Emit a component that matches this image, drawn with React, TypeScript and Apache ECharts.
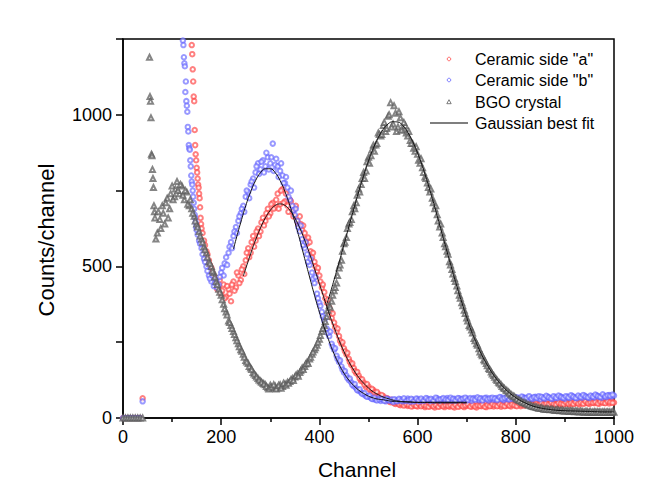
import { useEffect, useRef } from "react";
import * as echarts from "echarts";

const FONT = "'Liberation Sans', Arial, Helvetica, sans-serif";

// ---------- data (channel -> counts) ----------
// BGO crystal
const BGO_LOW_START = 0; // step 5
const bgoLow = [0, 0, 0, 0, 0, 0, 0, 0, 0];
const BGO_STEEP_START = 54; // step 1
const bgoSteep = [1190, 1060, 1045, 990, 870, 865, 820, 790, 760, 700, 680];
const BGO_MAIN_START = 65; // step 5
const bgoMain = [
  660, 610, 655, 700, 640, 725, 690, 765, 730, 780,
  740, 765, 720, 745, 700, 690, 665, 640, 615, 590,
  565, 545, 515, 500, 480, 450, 425, 405, 375, 350,
  320, 305, 285, 265, 245, 225, 210, 190, 180, 165,
  150, 140, 130, 122, 115, 110, 100, 108, 98, 105,
  100, 110, 104, 112, 118, 120, 130, 135, 145, 150,
  165, 170, 185, 195, 210, 225, 240, 260, 285, 305,
  335, 370, 385, 420, 445, 495, 520, 575, 595, 640,
  655, 700, 710, 755, 770, 810, 815, 860, 865, 900,
  900, 940, 930, 965, 945, 995, 1040, 970, 1005, 960,
  990, 950, 965, 930, 915, 905, 880, 870, 840, 825,
  795, 775, 745, 725, 690, 670, 630, 610, 575, 550,
  515, 490, 460, 435, 405, 380, 355, 330, 305, 290,
  262, 245, 228, 210, 192, 180, 163, 152, 140, 128,
  118, 110, 100, 92, 86, 78, 72, 66, 60, 56,
  51, 48, 44, 41, 38, 36, 34, 32, 31, 29,
  30, 27, 28, 25, 27, 24, 26, 23, 25, 22,
  24, 21, 23, 20, 22, 19, 22, 20, 18, 21,
  19, 20, 18, 21, 19, 20, 18, 19,
];
const BGO_MID_START = 67; // step 5, readings between the main ones
const bgoMid = [
  590, 680, 625, 675, 710, 660, 740, 720, 755, 750,
  770, 735, 750, 705, 720, 675, 650, 630, 600, 580,
  555, 530, 510, 485, 465, 440, 415, 390, 360, 340,
  315, 295, 275, 255, 235, 220, 200, 185, 170, 160,
  145, 135, 125, 118, 112, 104, 96, 102, 110, 96,
  108, 98, 115, 108, 115, 126, 124, 140, 138, 156,
  160, 178, 180, 200, 218, 232, 250, 272, 295, 318,
  355, 365, 405, 430, 470, 505, 550, 580, 625, 645,
  680, 690, 735, 745, 790, 790, 845, 840, 885, 880,
  905, 935, 935, 975, 955, 1000, 960, 1030, 945, 1010,
  950, 975, 940, 945, 905, 890, 895, 850, 855, 810,
  790, 760, 755, 710, 700, 650, 640, 595, 565, 540,
  505, 475, 450, 420, 395, 370, 345, 320, 300, 280,
  255, 240, 218, 205, 188, 172, 160, 145, 134, 124,
  115, 104, 97, 90, 82, 75, 70, 63, 58, 54,
  50, 46, 43, 39, 37, 35, 32, 33, 29, 30,
  28, 29, 26, 27, 25, 26, 23, 24, 22, 24,
  22, 23, 21, 22, 20, 21, 19, 21, 20, 19,
  21, 19, 20, 18, 20, 19, 21,
];

// Ceramic side "a"
const RED_LOW_START = 0; // step 5
const redLow = [0, 0, 0, 0, 0, 0, 0, 0, 65];
const RED_STEEP_START = 140; // step 1
const redSteep = [1230, 1200, 1150, 1110, 1060, 1045, 950, 900, 870, 850, 825, 810, 790, 770, 760, 740, 725, 695, 660, 640];
const RED_MAIN_START = 160; // step 5
const redMain = [
  625, 585, 550, 520, 495, 470, 445, 430, 410, 440,
  400, 425, 385, 450, 430, 470, 455, 500, 520, 560,
  545, 600, 585, 625, 615, 660, 650, 690, 675, 710,
  695, 740, 705, 755, 715, 700, 720, 680, 690, 650,
  665, 620, 610, 575, 580, 530, 515, 485, 470, 430,
  415, 380, 365, 330, 315, 285, 270, 245, 230, 210,
  195, 175, 165, 148, 140, 122, 118, 102, 104, 90,
  92, 78, 80, 66, 72, 58, 63, 52, 56, 46,
  50, 42, 47, 44, 40, 46, 39, 43, 38, 45,
  41, 36, 44, 38, 42, 35, 41, 38, 43, 36,
  44, 37, 41, 35, 42, 38, 44, 36, 40, 43,
  37, 41, 35, 44, 39, 42, 36, 45, 40, 38,
  44, 41, 37, 45, 40, 43, 38, 46, 41, 44,
  39, 47, 42, 45, 40, 48, 43, 46, 41, 49,
  44, 47, 42, 50, 45, 48, 43, 51, 46, 49,
  44, 52, 47, 50, 45, 53, 48, 51, 46, 54,
  49, 52, 47, 55, 50, 53, 48, 56, 51,
];
const RED_MID_START = 162; // step 5
const redMid = [
  610, 570, 540, 505, 480, 460, 425, 455, 420, 395,
  435, 410, 440, 420, 480, 445, 490, 475, 545, 530,
  580, 565, 615, 600, 645, 635, 675, 665, 705, 690,
  720, 690, 750, 710, 740, 680, 715, 665, 700, 640,
  640, 635, 590, 595, 550, 545, 500, 495, 450, 440,
  395, 390, 350, 345, 300, 295, 255, 250, 220, 215,
  185, 180, 155, 152, 130, 128, 110, 112, 95, 96,
  84, 86, 72, 76, 62, 66, 55, 60, 49, 53,
  45, 48, 41, 46, 43, 38, 45, 40, 47, 39,
  44, 40, 37, 45, 39, 43, 37, 45, 39, 42,
  40, 43, 38, 44, 37, 45, 39, 42, 46, 38,
  44, 38, 42, 40, 45, 37, 43, 39, 46, 42,
  39, 46, 42, 39, 47, 41, 45, 42, 39, 47,
  43, 41, 48, 44, 46, 42, 47, 44, 50, 45,
  48, 45, 51, 46, 44, 50, 47, 45, 52, 47,
  50, 46, 53, 48, 51, 47, 55, 49, 52, 50,
  53, 48, 54, 51, 49, 55, 52, 50,
];

// Ceramic side "b"
const BLUE_LOW_START = 0; // step 5
const blueLow = [0, 0, 0, 0, 0, 0, 0, 0, 55];
const BLUE_STEEP_START = 122; // step 1
const blueSteep = [1245, 1230, 1190, 1170, 1160, 1075, 1110, 1045, 1030, 1010, 960, 945, 900, 890, 885, 850, 830, 800, 780, 770, 750, 730, 710, 690, 670, 660, 645, 630];
const BLUE_MAIN_START = 150; // step 5
const blueMain = [
  620, 585, 560, 525, 500, 470, 450, 435, 455, 440,
  480, 470, 530, 545, 580, 600, 630, 650, 675, 700,
  730, 745, 770, 790, 810, 840, 820, 850, 830, 860,
  840, 905, 835, 830, 815, 800, 775, 760, 720, 700,
  670, 650, 615, 590, 560, 540, 505, 480, 445, 410,
  380, 350, 320, 295, 270, 245, 225, 205, 185, 170,
  150, 140, 125, 118, 105, 98, 90, 84, 78, 72,
  70, 66, 62, 60, 64, 56, 60, 55, 62, 57,
  53, 60, 56, 62, 55, 59, 64, 54, 61, 57,
  63, 55, 60, 58, 64, 56, 61, 59, 65, 57,
  62, 58, 66, 60, 57, 63, 59, 65, 61, 58,
  64, 60, 57, 66, 62, 59, 65, 61, 67, 58,
  63, 60, 66, 62, 68, 59, 64, 61, 67, 63,
  60, 66, 62, 69, 64, 61, 67, 63, 70, 65,
  62, 68, 64, 71, 66, 63, 69, 65, 72, 67,
  64, 70, 66, 73, 68, 65, 71, 67, 74, 69,
  66, 72, 68, 75, 70, 67, 73, 69, 76, 71,
  74,
];
const BLUE_MID_START = 152; // step 5
const blueMid = [
  605, 575, 540, 515, 485, 460, 470, 445, 430, 465,
  495, 510, 505, 565, 560, 615, 610, 665, 690, 680,
  750, 725, 780, 760, 830, 805, 845, 810, 875, 820,
  860, 815, 855, 795, 840, 775, 795, 730, 750, 685,
  690, 630, 635, 570, 580, 515, 525, 460, 465, 395,
  370, 335, 330, 280, 285, 235, 230, 195, 190, 160,
  155, 132, 130, 110, 112, 92, 95, 80, 82, 70,
  74, 63, 67, 58, 61, 63, 57, 64, 58, 61,
  62, 55, 63, 57, 65, 56, 60, 63, 55, 64,
  58, 64, 57, 66, 60, 63, 57, 67, 60, 62,
  66, 61, 59, 67, 63, 58, 66, 60, 64, 67,
  59, 66, 63, 60, 68, 64, 58, 66, 62, 65,
  67, 64, 59, 69, 63, 66, 70, 62, 65, 69,
  68, 62, 71, 65, 67, 72, 64, 69, 66, 72,
  70, 65, 73, 68, 64, 72, 67, 74, 69, 66,
  72, 68, 75, 70, 66, 74, 69, 76, 71, 68,
  74, 70, 77, 72, 69, 78, 71, 75, 73, 77,
];

// Gaussian best fits
const redFitCh = [245, 250, 260, 270, 280, 290, 300, 310, 320, 330, 340, 350, 360, 370, 380, 390, 400, 410, 420, 430, 440, 450, 460, 470, 480, 490, 500, 510, 520, 530, 540, 550, 560, 570, 580, 590, 600, 620, 640, 660, 680, 700];
const redFit = [468, 493, 542, 587, 627, 660, 685, 701, 706, 701, 685, 660, 627, 587, 542, 493, 443, 393, 344, 299, 257, 219, 186, 158, 134, 115, 99, 86, 77, 69, 64, 59, 56, 54, 53, 52, 51, 51, 50, 50, 50, 50];
const blueFitCh = [225, 230, 240, 250, 260, 270, 280, 290, 300, 310, 320, 330, 340, 350, 360, 370, 380, 390, 400, 410, 420, 430, 440, 450, 460, 470, 480, 490, 500, 510, 520, 530, 540, 550, 560, 580, 600, 620, 640, 660, 680, 700];
const blueFit = [557, 588, 646, 700, 746, 783, 809, 822, 822, 809, 783, 746, 700, 646, 588, 526, 465, 405, 349, 298, 252, 211, 177, 148, 125, 107, 92, 81, 72, 66, 62, 60, 57, 55, 54, 53, 52, 52, 52, 52, 52, 52];
const bgoFitCh = [415, 420, 430, 440, 450, 460, 470, 480, 490, 500, 510, 520, 530, 540, 550, 560, 570, 580, 590, 600, 610, 620, 630, 640, 650, 660, 670, 680, 690, 700, 710, 720, 730, 740, 750, 760, 770, 780, 790, 800, 810, 820, 830, 840, 850, 860, 870, 880, 900, 920, 940, 960, 980, 1000];
const bgoFit = [375, 401, 456, 513, 571, 631, 689, 746, 799, 848, 890, 925, 952, 970, 977, 976, 964, 942, 912, 874, 829, 778, 724, 666, 607, 548, 490, 434, 381, 331, 285, 246, 210, 180, 153, 130, 110, 93, 79, 67, 57, 49, 42, 37, 33, 30, 28, 26, 24, 23, 22, 21, 20, 20];

const LEGEND_NAMES = ['Ceramic side "a"', 'Ceramic side "b"', "BGO crystal", "Gaussian best fit"];
const X_TICK_STEP = 200;
const Y_TICK_STEP = 250;

const RED = "#ff4a4a";
const BLUE = "#6262ff";
const GRAY = "#5c5c5c";

function seg(start: number, step: number, values: number[]) {
  return values.map((v, i) => [start + i * step, v]);
}
function pairs(ch: number[], vals: number[]) {
  return ch.map((c, i) => [c, vals[i]]);
}

export default function App() {
  const ref = useRef<HTMLDivElement>(null);
  useEffect(() => {
    const chart = echarts.init(ref.current!, null, { renderer: "svg" });
    const axisLineStyle = { color: "#000", width: 1.5 };
    const fitStyle = { color: "#111", width: 1 };
    const legendX = 449;
    const legendTextX = 475;
    const rowY = [59, 80, 102, 123];
    const legendText = (i: number) => ({
      type: "text",
      x: legendTextX,
      y: rowY[i],
      style: {
        text: LEGEND_NAMES[i],
        fontSize: 16,
        fontFamily: FONT,
        fill: "#000",
        align: "left",
        verticalAlign: "middle",
      },
    });
    chart.setOption({
      animation: false,
      backgroundColor: "#fff",
      textStyle: { fontFamily: FONT },
      grid: {
        left: 123,
        right: 31,
        top: 39,
        bottom: 84,
        show: true,
        borderColor: "#000",
        borderWidth: 1.5,
        backgroundColor: "transparent",
      },
      xAxis: {
        type: "value",
        min: 0,
        max: 1000,
        interval: X_TICK_STEP,
        axisLine: { show: true, onZero: false, lineStyle: axisLineStyle },
        axisTick: { show: true, inside: false, length: 7, lineStyle: axisLineStyle },
        minorTick: { show: true, splitNumber: 2, length: 4, lineStyle: axisLineStyle },
        splitLine: { show: false },
        axisLabel: {
          fontSize: 18,
          color: "#000",
          margin: 10,
          fontFamily: FONT,
          formatter: (v: number) => String(v),
        },
      },
      yAxis: {
        type: "value",
        min: 0,
        max: 1250,
        interval: Y_TICK_STEP,
        axisLine: { show: true, onZero: false, lineStyle: axisLineStyle },
        axisTick: { show: true, inside: false, length: 7, lineStyle: axisLineStyle },
        splitLine: { show: false },
        axisLabel: {
          fontSize: 18,
          color: "#000",
          margin: 11,
          fontFamily: FONT,
          formatter: (v: number) => (v % 500 === 0 ? String(v) : ""),
        },
      },
      graphic: [
        {
          type: "text",
          x: 46,
          y: 240,
          rotation: Math.PI / 2,
          style: {
            text: "Counts/channel",
            fontSize: 22,
            fontFamily: FONT,
            fill: "#000",
            align: "center",
            verticalAlign: "middle",
          },
        },
        {
          type: "text",
          x: 357,
          y: 469,
          style: {
            text: "Channel",
            fontSize: 21,
            fontFamily: FONT,
            fill: "#000",
            align: "center",
            verticalAlign: "middle",
          },
        },
        // legend
        {
          type: "circle",
          shape: { cx: legendX, cy: rowY[0], r: 1.8 },
          style: { fill: "#fff", stroke: RED, lineWidth: 0.8 },
        },
        legendText(0),
        {
          type: "circle",
          shape: { cx: legendX, cy: rowY[1], r: 1.8 },
          style: { fill: "#fff", stroke: BLUE, lineWidth: 0.8 },
        },
        legendText(1),
        {
          type: "polygon",
          shape: {
            points: [
              [legendX, rowY[2] - 2.3],
              [legendX - 2.2, rowY[2] + 1.7],
              [legendX + 2.2, rowY[2] + 1.7],
            ],
          },
          style: { fill: "#fff", stroke: GRAY, lineWidth: 0.8 },
        },
        legendText(2),
        {
          type: "line",
          shape: { x1: 430, y1: rowY[3], x2: 468, y2: rowY[3] },
          style: { stroke: "#555", lineWidth: 1.5 },
        },
        legendText(3),
      ],
      series: [
        {
          name: LEGEND_NAMES[0],
          type: "scatter",
          symbol: "emptyCircle",
          symbolSize: 4.5,
          itemStyle: { color: RED, borderWidth: 0.7, opacity: 0.7 },
          data: [
            ...seg(RED_LOW_START, 5, redLow),
            ...seg(RED_STEEP_START, 1, redSteep),
            ...seg(RED_MAIN_START, 5, redMain),
            ...seg(RED_MID_START, 5, redMid),
          ],
          z: 2,
        },
        {
          name: LEGEND_NAMES[1],
          type: "scatter",
          symbol: "emptyCircle",
          symbolSize: 4.5,
          itemStyle: { color: BLUE, borderWidth: 0.7, opacity: 0.65 },
          data: [
            ...seg(BLUE_LOW_START, 5, blueLow),
            ...seg(BLUE_STEEP_START, 1, blueSteep),
            ...seg(BLUE_MAIN_START, 5, blueMain),
            ...seg(BLUE_MID_START, 5, blueMid),
          ],
          z: 3,
        },
        {
          name: LEGEND_NAMES[2],
          type: "scatter",
          symbol: "emptyTriangle",
          symbolSize: 5,
          itemStyle: { color: GRAY, borderWidth: 0.7, opacity: 0.75 },
          data: [
            ...seg(BGO_LOW_START, 5, bgoLow),
            ...seg(BGO_STEEP_START, 1, bgoSteep),
            ...seg(BGO_MAIN_START, 5, bgoMain),
            ...seg(BGO_MID_START, 5, bgoMid),
          ],
          z: 4,
        },
        {
          name: LEGEND_NAMES[3],
          type: "line",
          smooth: true,
          symbol: "none",
          lineStyle: fitStyle,
          data: pairs(redFitCh, redFit),
          z: 5,
        },
        {
          name: LEGEND_NAMES[3],
          type: "line",
          smooth: true,
          symbol: "none",
          lineStyle: fitStyle,
          data: pairs(blueFitCh, blueFit),
          z: 5,
        },
        {
          name: LEGEND_NAMES[3],
          type: "line",
          smooth: true,
          symbol: "none",
          lineStyle: fitStyle,
          data: pairs(bgoFitCh, bgoFit),
          z: 5,
        },
      ],
    });
    return () => chart.dispose();
  }, []);
  return (
    <div
      ref={ref}
      style={{ position: "fixed", left: 0, top: 0, width: 645, height: 502, background: "#fff" }}
    />
  );
}
